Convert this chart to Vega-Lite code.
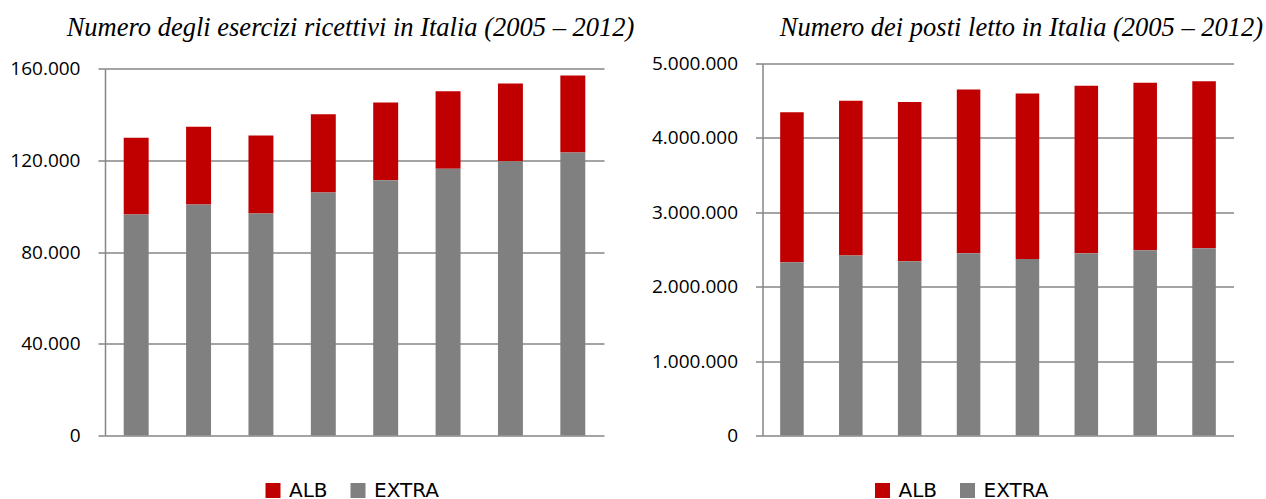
{
  "$schema": "https://vega.github.io/schema/vega-lite/v6.json",
  "padding": {"left": 9, "top": 14.5, "right": 0, "bottom": 0},
  "background": "white",
  "spacing": 15.5,
  "datasets": {
    "esercizi": [
      {"anno": "2005", "tipo": "ALB", "valore": 33500},
      {"anno": "2005", "tipo": "EXTRA", "valore": 96400},
      {"anno": "2006", "tipo": "ALB", "valore": 33900},
      {"anno": "2006", "tipo": "EXTRA", "valore": 100800},
      {"anno": "2007", "tipo": "ALB", "valore": 34000},
      {"anno": "2007", "tipo": "EXTRA", "valore": 96900},
      {"anno": "2008", "tipo": "ALB", "valore": 34200},
      {"anno": "2008", "tipo": "EXTRA", "valore": 106000},
      {"anno": "2009", "tipo": "ALB", "valore": 33900},
      {"anno": "2009", "tipo": "EXTRA", "valore": 111400},
      {"anno": "2010", "tipo": "ALB", "valore": 33800},
      {"anno": "2010", "tipo": "EXTRA", "valore": 116400},
      {"anno": "2011", "tipo": "ALB", "valore": 33900},
      {"anno": "2011", "tipo": "EXTRA", "valore": 119700},
      {"anno": "2012", "tipo": "ALB", "valore": 33600},
      {"anno": "2012", "tipo": "EXTRA", "valore": 123500}
    ],
    "posti": [
      {"anno": "2005", "tipo": "ALB", "valore": 2018000},
      {"anno": "2005", "tipo": "EXTRA", "valore": 2327000},
      {"anno": "2006", "tipo": "ALB", "valore": 2080000},
      {"anno": "2006", "tipo": "EXTRA", "valore": 2418000},
      {"anno": "2007", "tipo": "ALB", "valore": 2143000},
      {"anno": "2007", "tipo": "EXTRA", "valore": 2341000},
      {"anno": "2008", "tipo": "ALB", "valore": 2202000},
      {"anno": "2008", "tipo": "EXTRA", "valore": 2449000},
      {"anno": "2009", "tipo": "ALB", "valore": 2225000},
      {"anno": "2009", "tipo": "EXTRA", "valore": 2372000},
      {"anno": "2010", "tipo": "ALB", "valore": 2251000},
      {"anno": "2010", "tipo": "EXTRA", "valore": 2449000},
      {"anno": "2011", "tipo": "ALB", "valore": 2251000},
      {"anno": "2011", "tipo": "EXTRA", "valore": 2489000},
      {"anno": "2012", "tipo": "ALB", "valore": 2247000},
      {"anno": "2012", "tipo": "EXTRA", "valore": 2516000}
    ]
  },
  "hconcat": [
    {
      "data": {"name": "esercizi"},
      "width": 499,
      "height": 372,
      "title": {"text": "Numero degli esercizi ricettivi in Italia (2005 – 2012)", "offset": 17.9, "dx": -4},
      "mark": {"type": "bar"},
      "encoding": {
        "x": {"field": "anno", "type": "ordinal", "scale": {"paddingInner": 0.6, "paddingOuter": 0.3}, "axis": null},
        "y": {"field": "valore", "type": "quantitative", "stack": "zero",
              "scale": {"domain": [0, 162314], "nice": false},
              "axis": {"values": [0, 40000, 80000, 120000, 160000], "title": null, "domainDash": [366.7, 20],
                       "labelExpr": "replace(format(datum.value, ','), /,/g, '.')"}},
        "color": {"field": "tipo", "type": "nominal",
                  "scale": {"domain": ["ALB", "EXTRA"], "range": ["#C00000", "#808080"]},
                  "legend": {"orient": "none", "legendX": 158, "legendY": 417, "direction": "horizontal", "title": null}},
        "order": {"field": "tipo", "sort": "descending"}
      }
    },
    {
      "data": {"name": "posti"},
      "width": 471,
      "height": 372,
      "title": {"text": "Numero dei posti letto in Italia (2005 – 2012)", "offset": 12.9, "dx": 23.5},
      "mark": {"type": "bar"},
      "encoding": {
        "x": {"field": "anno", "type": "ordinal", "scale": {"paddingInner": 0.6, "paddingOuter": 0.3}, "axis": null},
        "y": {"field": "valore", "type": "quantitative", "stack": "zero",
              "scale": {"domain": [0, 5000000], "nice": false},
              "axis": {"values": [0, 1000000, 2000000, 3000000, 4000000, 5000000], "title": null,
                       "labelExpr": "replace(format(datum.value, ','), /,/g, '.')"}},
        "color": {"field": "tipo", "type": "nominal",
                  "scale": {"domain": ["ALB", "EXTRA"], "range": ["#C00000", "#808080"]},
                  "legend": {"orient": "none", "legendX": 110, "legendY": 417, "direction": "horizontal", "title": null}},
        "order": {"field": "tipo", "sort": "descending"}
      }
    }
  ],
  "resolve": {"scale": {"color": "independent", "y": "independent", "x": "independent"}, "legend": {"color": "independent"}},
  "config": {
    "view": {"stroke": null},
    "title": {"font": "Liberation Serif", "fontStyle": "italic", "fontWeight": "normal", "fontSize": 26.5, "color": "#000000", "anchor": "middle"},
    "axisY": {
      "domainColor": "#868686", "domainWidth": 1.5,
      "gridColor": "#868686", "gridWidth": 1.5,
      "tickColor": "#868686", "tickWidth": 1.5, "tickSize": 7,
      "labelFont": "Open Sans", "labelFontSize": 19, "labelColor": "#000000", "labelPadding": 18
    },
    "legend": {
      "labelFont": "DejaVu Sans", "labelFontSize": 20, "labelColor": "#000000",
      "symbolType": "square", "symbolSize": 225, "symbolStrokeWidth": 0,
      "labelOffset": 6, "columnPadding": 20
    }
  }
}
